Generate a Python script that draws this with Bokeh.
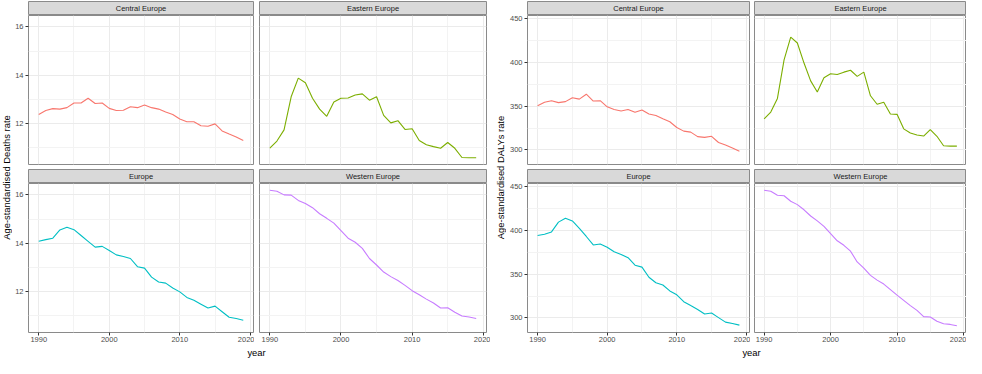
import math
from bokeh.plotting import figure
from bokeh.models import Range1d, FixedTicker, ColumnDataSource
from bokeh.layouts import row, column
from bokeh.embed import file_html
from bokeh.resources import INLINE
from bokeh.core.properties import value

# ---------------- data ----------------
years = list(range(1990, 2020))
regions = ["Central Europe", "Eastern Europe", "Europe", "Western Europe"]
colors = ["#F8766D", "#7CAE00", "#00BFC4", "#C77CFF"]

deaths_central = [12.38, 12.54, 12.62, 12.60, 12.66, 12.85, 12.85, 13.05, 12.83, 12.85,
                  12.63, 12.54, 12.55, 12.70, 12.66, 12.77, 12.66, 12.60, 12.48, 12.38,
                  12.19, 12.08, 12.08, 11.91, 11.89, 11.99, 11.70, 11.57, 11.45, 11.30]
deaths_eastern = [10.99, 11.28, 11.74, 13.11, 13.88, 13.69, 13.05, 12.60, 12.30, 12.89,
                  13.05, 13.06, 13.18, 13.23, 12.97, 13.11, 12.34, 12.03, 12.12, 11.76,
                  11.79, 11.30, 11.13, 11.05, 10.98, 11.22, 10.98, 10.60, 10.59, 10.59]
deaths_europe = [14.08, 14.15, 14.21, 14.55, 14.66, 14.56, 14.32, 14.08, 13.84, 13.87,
                 13.70, 13.52, 13.45, 13.37, 13.03, 12.97, 12.60, 12.40, 12.35, 12.15,
                 11.99, 11.76, 11.64, 11.48, 11.32, 11.40, 11.17, 10.94, 10.89, 10.82]
deaths_western = [16.19, 16.15, 16.00, 15.99, 15.77, 15.64, 15.47, 15.22, 15.03, 14.83,
                  14.52, 14.21, 14.04, 13.79, 13.37, 13.10, 12.81, 12.62, 12.46, 12.26,
                  12.04, 11.87, 11.69, 11.53, 11.32, 11.33, 11.15, 10.99, 10.95, 10.89]

dalys_central = [350.4, 354.4, 356.3, 354.1, 355.2, 359.6, 358.1, 363.7, 355.9, 356.3,
                 349.3, 346.3, 344.4, 346.3, 343.0, 345.6, 341.1, 339.3, 335.6, 332.2,
                 325.6, 321.5, 320.4, 315.2, 314.4, 315.6, 308.5, 305.6, 302.2, 298.5]
dalys_eastern = [335.6, 343.3, 358.9, 403.0, 428.9, 422.2, 399.3, 378.9, 366.3, 382.6,
                 387.0, 386.3, 388.9, 391.1, 384.1, 388.9, 361.9, 352.2, 354.4, 341.1,
                 340.7, 324.1, 319.3, 317.0, 315.9, 323.3, 315.6, 304.8, 304.4, 304.4]
dalys_europe = [394.2, 395.7, 398.3, 409.5, 413.9, 410.9, 402.4, 393.1, 383.4, 384.5,
                380.8, 375.6, 372.6, 368.9, 360.3, 358.1, 346.5, 340.2, 337.6, 330.9,
                326.4, 318.6, 314.1, 309.7, 304.5, 305.6, 300.4, 295.2, 293.7, 291.8]
dalys_western = [445.9, 444.8, 440.3, 439.6, 433.3, 429.5, 423.6, 416.5, 410.9, 404.6,
                 396.4, 388.2, 383.0, 376.3, 364.0, 356.9, 348.7, 343.2, 338.7, 332.4,
                 326.1, 320.1, 314.1, 308.6, 301.5, 301.1, 296.3, 293.3, 292.6, 291.1]

x_ticks = [1990, 2000, 2010, 2020]
x_minor = [1995, 2005, 2015]
deaths_ticks = [12, 14, 16]
deaths_minor = [11, 13, 15]
dalys_ticks = [300, 350, 400, 450]
dalys_minor = [325, 375, 425]

FONT = "Liberation Sans"
BORDER = "#8A8A8A"


def base_fig(w, h, mbl, mbr, mbt, mbb, **kw):
    p = figure(width=w, height=h, output_backend="svg", toolbar_location=None,
               title=None, min_border_left=mbl, min_border_right=mbr,
               min_border_top=mbt, min_border_bottom=mbb, **kw)
    p.border_fill_color = "white"
    return p


def strip_fig(name, w, mbl, mbr, h, mbt):
    p = base_fig(w, h, mbl, mbr, mbt, 0, x_range=Range1d(0, 1), y_range=Range1d(0, 1),
                 x_axis_type=None, y_axis_type=None)
    p.background_fill_color = "#D9D9D9"
    p.outline_line_color = BORDER
    src = ColumnDataSource(dict(x=[0.5], y=[0.5], t=[name]))
    p.text(x="x", y="y", text="t", source=src, text_align="center", text_baseline="middle",
           text_font=value(FONT), text_font_size="7.5px", text_color="#1A1A1A")
    return p


def main_fig(vals, color, yr, yticks, yminor, w, h, mbl, mbr, mbb, show_x, show_y):
    p = base_fig(w, h, mbl, mbr, 0, mbb, x_range=Range1d(1988.55, 2020.45), y_range=yr)
    p.background_fill_color = "white"
    p.outline_line_color = BORDER
    xt = FixedTicker(ticks=x_ticks, minor_ticks=x_minor)
    yt = FixedTicker(ticks=yticks, minor_ticks=yminor)
    p.xaxis.ticker = xt
    p.yaxis.ticker = yt
    p.xgrid.ticker = xt
    p.ygrid.ticker = yt
    for g in (p.xgrid, p.ygrid):
        g.grid_line_color = "#EBEBEB"
        g.grid_line_width = 1
        g.minor_grid_line_color = "#F3F3F3"
        g.minor_grid_line_width = 1
    for ax in (p.xaxis, p.yaxis):
        ax.axis_line_color = None
        ax.major_tick_line_color = "#333333"
        ax.major_tick_out = 3
        ax.major_tick_in = 0
        ax.minor_tick_out = 0
        ax.minor_tick_in = 0
        ax.major_label_text_font = FONT
        ax.major_label_text_font_size = "7.5px"
        ax.major_label_text_color = "#4D4D4D"
        ax.major_label_standoff = 2
    p.xaxis.major_label_standoff = 1
    p.xaxis.visible = show_x
    p.yaxis.visible = show_y
    p.line(years, vals, line_color=color, line_width=1.1)
    return p


def text_fig(label, w, h, mbl, mbr, mbt, mbb, angle):
    p = base_fig(w, h, mbl, mbr, mbt, mbb, x_range=Range1d(0, 1), y_range=Range1d(0, 1),
                 x_axis_type=None, y_axis_type=None)
    p.outline_line_color = None
    p.background_fill_color = "white"
    src = ColumnDataSource(dict(x=[0.5], y=[0.5], t=[label]))
    p.text(x="x", y="y", text="t", source=src, angle=angle, text_align="center",
           text_baseline="middle", text_font=value(FONT), text_font_size="9.4px",
           text_color="black")
    return p


def make_chart(series, yticks, yminor, ylabel, d):
    allv = [v for s in series for v in s]
    lo, hi = min(allv), max(allv)
    pad = (hi - lo) * 0.05
    yr = Range1d(lo - pad, hi + pad)
    H_S1, H_M1, H_S2, H_M2, H_X = 15, 154, 14, 163, 12
    total_h = H_S1 + H_M1 + H_S2 + H_M2 + H_X
    widths = [(d["c1w"], d["c1l"], d["c1r"]), (d["c2w"], d["c2l"], d["c2r"])]
    rows = []
    for r in range(2):
        cells = []
        for c in range(2):
            k = r * 2 + c
            w, ml, mr = widths[c]
            s = strip_fig(regions[k], w, ml, mr, H_S1 if r == 0 else H_S2, 1 if r == 0 else 0)
            m = main_fig(series[k], colors[k], yr, yticks, yminor, w,
                         H_M1 if r == 0 else H_M2, ml, mr, 5 if r == 0 else 14,
                         show_x=(r == 1), show_y=(c == 0))
            cells.append(column(s, m))
        rows.append(row(*cells))
    xlab = text_fig("year", d["c1w"] + d["c2w"], H_X, d["xl"], d["xr"], 0, 0, 0)
    grid = column(rows[0], rows[1], xlab)
    ylab = text_fig(ylabel, d["yw"], total_h, d["yl"], 0, 15, total_h - 339, math.pi / 2)
    return row(ylab, grid)


left = make_chart([deaths_central, deaths_eastern, deaths_europe, deaths_western],
                  deaths_ticks, deaths_minor, "Age-standardised Deaths rate",
                  dict(yw=12, yl=0, c1w=242, c1l=14, c1r=1, c2w=236, c2l=5, c2r=4, xl=15, xr=5))
right = make_chart([dalys_central, dalys_eastern, dalys_europe, dalys_western],
                   dalys_ticks, dalys_minor, "Age-standardised DALYs rate",
                   dict(yw=16, yl=3, c1w=244, c1l=18, c1r=1, c2w=216, c2l=4, c2r=0, xl=30, xr=0))

p = row(left, right)
open("out.html", "w").write(file_html(p, INLINE))
